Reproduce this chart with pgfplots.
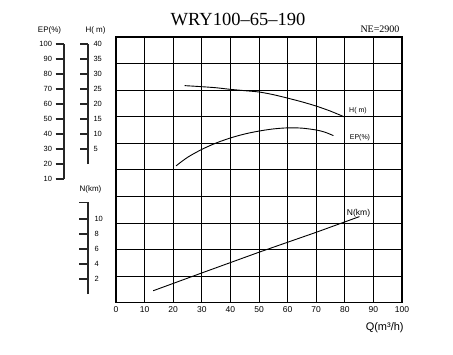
\documentclass[border=0pt]{standalone}
\usepackage{fontspec}
\setmainfont{Liberation Sans}
\newfontfamily\serif{Liberation Serif}
\usepackage{pgfplots}
\pgfplotsset{compat=1.18}
\begin{document}
\begin{tikzpicture}[x=1pt,y=1pt]
\useasboundingbox (0,0) rectangle (453,-354);
% main chart
\begin{axis}[
  at={(116pt,-302.7pt)}, anchor=south west,
  scale only axis, width=286pt, height=265.7pt,
  xmin=0, xmax=100, ymin=0, ymax=10,
  xtick={0,10,...,100},
  xticklabels={0,10,20,30,40,50,60,70,80,90,100},
  ytick={0,1,...,10}, yticklabel=\empty,
  major tick length=0pt,
  grid=major, grid style={black, line width=0.85pt},
  axis line style={black, line width=1.2pt},
  xticklabel style={font=\fontsize{8.5}{9}\selectfont},
  clip=false,
]
% H(m)
\addplot[black, line width=0.9pt, smooth] coordinates {
 (24,8.17) (30,8.13) (35,8.09) (40,8.03) (45,7.98) (50,7.93) (55,7.83)
 (60,7.70) (65,7.56) (70,7.40) (75,7.21) (79.7,7.0)};
% EP(%)
\addplot[black, line width=0.9pt, smooth] coordinates {
 (21,5.15) (25,5.47) (30,5.77) (35,6.01) (40,6.20) (45,6.35) (50,6.46)
 (55,6.54) (60,6.58) (65,6.57) (70,6.50) (73,6.42) (76,6.29)};
% N(km)
\addplot[black, line width=0.9pt] coordinates {
 (13,0.45) (30,1.12) (50,1.90) (70,2.65) (85.1,3.24)};
\node[font=\fontsize{7}{8}\selectfont] at (axis cs:84.6,7.21) {H( m)};
\node[font=\fontsize{7}{8}\selectfont] at (axis cs:85.3,6.20) {EP(\%)};
\node[font=\fontsize{8.5}{9}\selectfont] at (axis cs:84.8,3.38) {N(km)};
\end{axis}
% EP scale
\begin{axis}[
  at={(64pt,-179pt)}, anchor=south west,
  scale only axis, width=10pt, height=135pt,
  xmin=0, xmax=1, ymin=10, ymax=100,
  axis y line=left, axis x line=none, xtick=\empty,
  y axis line style={-, line width=1.3pt, black!85},
  ytick={10,20,...,100},
  yticklabels={10,20,30,40,50,60,70,80,90,100},
  tick align=outside, major tick length=8.5pt,
  every tick/.style={line width=1.3pt, black!85},
  yticklabel style={font=\fontsize{7.5}{9}\selectfont},
]
\end{axis}
% H scale
\begin{axis}[
  at={(88pt,-164pt)}, anchor=south east,
  scale only axis, width=10pt, height=120pt,
  xmin=0, xmax=1, ymin=0, ymax=40,
  axis y line=right, axis x line=none, xtick=\empty,
  y axis line style={-, line width=1.3pt, black!85},
  ytick={5,10,...,40},
  yticklabels={5,10,15,20,25,30,35,40},
  tick align=inside, major tick length=8.5pt,
  every tick/.style={line width=1.3pt, black!85},
  yticklabel style={font=\fontsize{7.5}{9}\selectfont, xshift=2pt},
]
\end{axis}
% N scale
\begin{axis}[
  at={(88pt,-294pt)}, anchor=south east,
  scale only axis, width=10pt, height=91.7pt,
  xmin=0, xmax=1, ymin=0, ymax=12.23,
  axis y line=right, axis x line=none, xtick=\empty,
  y axis line style={-, line width=1.3pt, black!85},
  ytick={2,4,6,8,10,12.23},
  yticklabels={2,4,6,8,10,{}},
  tick align=inside, major tick length=9pt,
  every tick/.style={line width=1.3pt, black!85},
  yticklabel style={font=\fontsize{7.5}{9}\selectfont, xshift=3pt},
]
\end{axis}
\node[font=\fontsize{8}{9}\selectfont] at (49.5,-30) {EP(\%)};
\node[font=\fontsize{8}{9}\selectfont] at (95.5,-30) {H( m)};
\node[font=\fontsize{8}{9}\selectfont] at (90.5,-189.5) {N(km)};
\node[font=\serif\fontsize{18.5}{20}\selectfont, anchor=base] at (238,-25.7) {WRY100–65–190};
\node[font=\serif\fontsize{10}{11}\selectfont, anchor=base] at (380,-32.3) {NE=2900};
\node[font=\fontsize{11}{12}\selectfont] at (384.7,-328) {Q(m³/h)};
\end{tikzpicture}
\end{document}
